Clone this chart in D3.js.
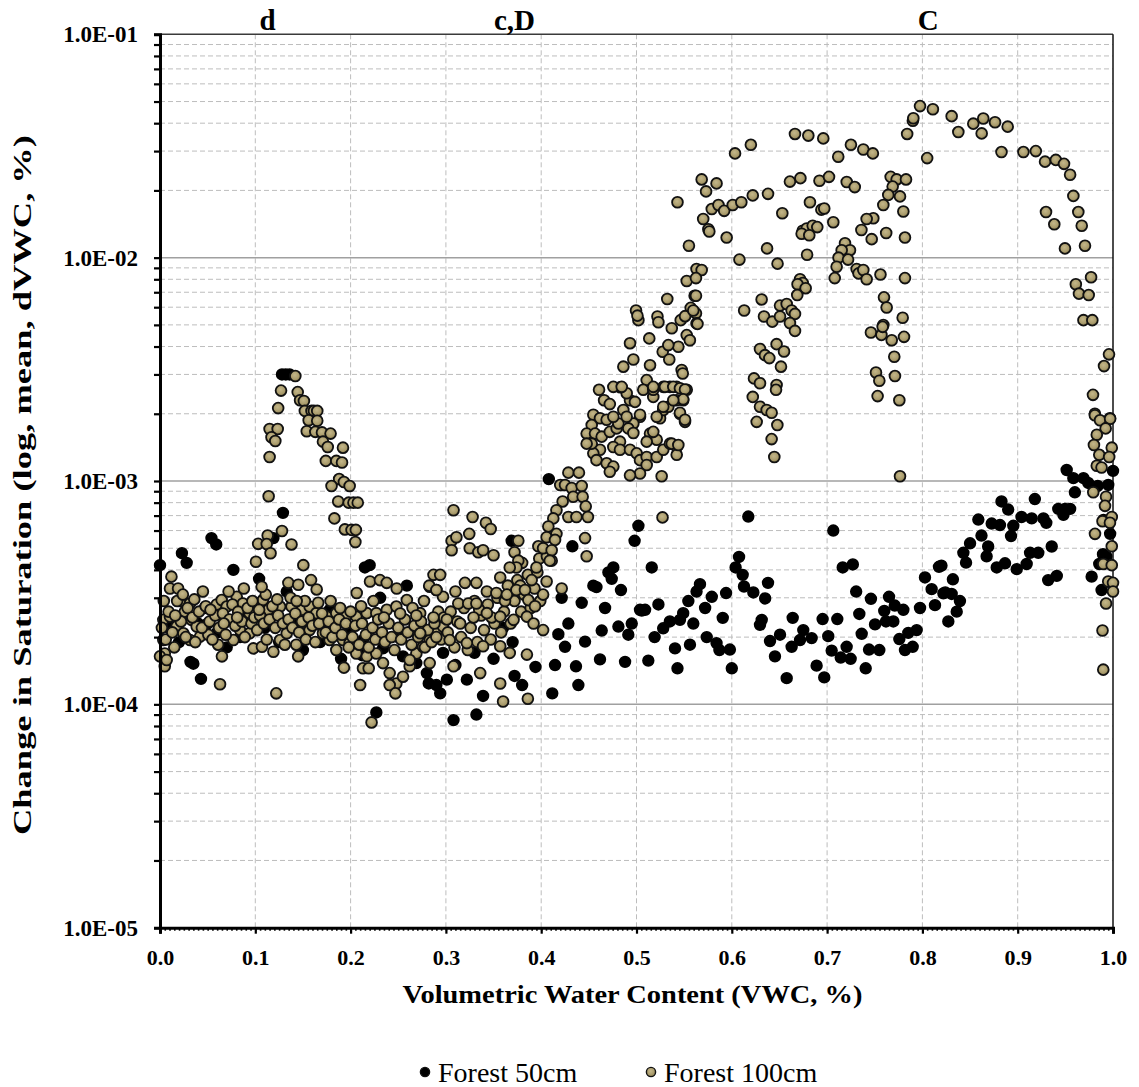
<!DOCTYPE html>
<html>
<head>
<meta charset="utf-8">
<script src="https://cdn.jsdelivr.net/npm/d3@7"></script>
<style>
  body { margin: 0; background: #fff; }
  svg { display: block; }
  text { font-family: "Liberation Serif", "Times New Roman", serif; fill: #000; }
</style>
</head>
<body>
<div id="chart"></div>
<script>
// Forest 50cm (black markers), [VWC, dVWC]
const forest50 = [
  [0, 4.2e-4], [0.009, 2.2e-4], [0.012, 2.4e-4], [0.02, 1.9e-4], [0.023, 4.75e-4], [0.028, 4.3e-4],
  [0.032, 1.55e-4], [0.035, 1.52e-4], [0.04, 2.3e-4], [0.043, 1.3e-4], [0.047, 2.7e-4], [0.05, 2.3e-4],
  [0.054, 5.55e-4], [0.059, 5.2e-4], [0.06, 2.1e-4], [0.07, 1.8e-4], [0.077, 4.0e-4], [0.084, 2.0e-4],
  [0.09, 2.5e-4], [0.104, 3.65e-4], [0.11, 2.2e-4], [0.119, 5.55e-4], [0.125, 1.9e-4], [0.128, 3.0e-3],
  [0.129, 7.2e-4], [0.132, 3.0e-3], [0.133, 3.2e-4], [0.136, 3.0e-3], [0.14, 2.4e-4], [0.15, 1.75e-4],
  [0.16, 2.3e-4], [0.168, 1.9e-4], [0.171, 2.2e-4], [0.178, 2.65e-4], [0.19, 1.6e-4], [0.199, 2.15e-4],
  [0.212, 1.66e-4], [0.213, 1.94e-4], [0.215, 4.1e-4], [0.22, 4.2e-4], [0.227, 9.2e-5], [0.231, 3.0e-4],
  [0.234, 1.78e-4], [0.25, 2.0e-4], [0.255, 1.64e-4], [0.259, 3.4e-4], [0.269, 1.53e-4], [0.28, 1.38e-4],
  [0.282, 1.24e-4], [0.29, 1.22e-4], [0.29, 2.4e-4], [0.294, 1.12e-4], [0.297, 1.7e-4], [0.301, 1.29e-4],
  [0.308, 8.5e-5], [0.31, 1.5e-4], [0.322, 1.29e-4], [0.33, 1.7e-4], [0.332, 9.0e-5], [0.339, 1.09e-4],
  [0.35, 1.6e-4], [0.36, 2.2e-4], [0.369, 5.4e-4], [0.37, 1.9e-4], [0.372, 1.34e-4], [0.38, 1.22e-4],
  [0.394, 1.47e-4],
  [0.408, 1.02e-3], [0.4327, 5.1e-4], [0.4215, 3.0e-4], [0.4425, 2.85e-4], [0.467, 2.7e-4], [0.4285, 2.3e-4],
  [0.418, 2.06e-4], [0.425, 1.81e-4], [0.446, 1.91e-4], [0.4635, 2.14e-4], [0.481, 2.23e-4], [0.4914, 2.05e-4],
  [0.495, 2.3e-4], [0.4145, 1.5e-4], [0.4365, 1.48e-4], [0.4617, 1.59e-4], [0.488, 1.55e-4], [0.439, 1.22e-4],
  [0.4116, 1.12e-4], [0.4757, 4.1e-4], [0.4705, 3.9e-4], [0.474, 3.65e-4], [0.4837, 3.25e-4], [0.4547, 3.4e-4],
  [0.458, 3.35e-4],
  [0.502, 6.3e-4], [0.498, 5.4e-4], [0.5055, 2.63e-4], [0.5037, 2.65e-4], [0.509, 2.65e-4], [0.516, 4.1e-4],
  [0.523, 2.8e-4], [0.5124, 1.57e-4], [0.519, 2.0e-4], [0.528, 2.19e-4], [0.535, 2.35e-4], [0.5456, 2.39e-4],
  [0.549, 2.56e-4], [0.5544, 2.9e-4], [0.563, 3.2e-4], [0.5666, 3.45e-4], [0.5404, 1.78e-4], [0.543, 1.45e-4],
  [0.5561, 1.85e-4], [0.5596, 2.3e-4], [0.5737, 2.0e-4], [0.584, 1.88e-4], [0.587, 1.75e-4], [0.598, 1.76e-4],
  [0.6, 1.45e-4], [0.572, 2.7e-4], [0.579, 3.03e-4], [0.594, 3.15e-4], [0.5905, 2.44e-4],
  [0.6173, 6.93e-4], [0.6076, 4.57e-4], [0.604, 4.1e-4], [0.6114, 3.8e-4], [0.6128, 3.37e-4], [0.6226, 3.17e-4],
  [0.635, 2.98e-4], [0.638, 3.5e-4], [0.6296, 2.27e-4], [0.6314, 2.39e-4], [0.6401, 1.92e-4], [0.6453, 1.64e-4],
  [0.6506, 2.05e-4], [0.6576, 1.31e-4], [0.6628, 1.81e-4], [0.6639, 2.44e-4], [0.6716, 1.94e-4], [0.675, 2.15e-4],
  [0.6838, 1.98e-4], [0.689, 1.49e-4], [0.6953, 2.41e-4], [0.697, 1.32e-4],
  [0.7065, 6.0e-4], [0.7012, 2.02e-4], [0.7048, 1.74e-4], [0.7107, 2.41e-4], [0.7143, 1.62e-4], [0.7205, 1.81e-4],
  [0.7247, 1.6e-4], [0.7164, 4.1e-4], [0.727, 4.23e-4], [0.7305, 3.2e-4], [0.7338, 2.54e-4], [0.7363, 2.07e-4],
  [0.7405, 1.45e-4], [0.744, 1.76e-4], [0.746, 2.97e-4], [0.7503, 2.28e-4], [0.7548, 1.75e-4], [0.76, 2.62e-4],
  [0.7618, 2.35e-4], [0.765, 3.03e-4], [0.7695, 2.35e-4], [0.771, 2.77e-4], [0.7758, 1.96e-4], [0.78, 2.65e-4],
  [0.7817, 1.75e-4], [0.7852, 2.09e-4], [0.7898, 1.81e-4], [0.794, 2.15e-4], [0.7975, 2.7e-4],
  [0.8027, 3.7e-4], [0.8097, 3.28e-4], [0.8174, 4.13e-4], [0.82, 4.18e-4], [0.8132, 2.78e-4], [0.822, 3.14e-4],
  [0.824, 3.17e-4], [0.8272, 2.35e-4], [0.8307, 3.12e-4], [0.832, 3.63e-4], [0.8394, 2.9e-4], [0.836, 2.6e-4],
  [0.843, 4.77e-4], [0.8458, 4.31e-4], [0.85, 5.26e-4], [0.8587, 6.72e-4], [0.862, 5.7e-4], [0.8674, 4.6e-4],
  [0.869, 5.09e-4], [0.8727, 6.45e-4], [0.878, 4.1e-4], [0.8814, 6.35e-4], [0.883, 8.1e-4], [0.8867, 4.28e-4],
  [0.89, 7.45e-4], [0.893, 5.67e-4], [0.8954, 6.3e-4], [0.899, 4.03e-4], [0.904, 6.9e-4], [0.9094, 4.25e-4],
  [0.913, 4.77e-4], [0.9147, 6.8e-4], [0.918, 8.3e-4], [0.9216, 4.77e-4], [0.927, 6.8e-4], [0.93, 6.5e-4],
  [0.932, 3.6e-4], [0.9357, 5.09e-4], [0.941, 3.76e-4], [0.9426, 7.5e-4], [0.948, 7.05e-4], [0.9496, 7.5e-4],
  [0.9514, 1.12e-3], [0.955, 7.5e-4], [0.9584, 1.03e-3], [0.96, 8.9e-4], [0.969, 1.03e-3], [0.974, 9.8e-4],
  [0.9776, 3.73e-4], [0.984, 9.5e-4], [0.9856, 4.25e-4], [0.988, 3.25e-4], [0.9895, 4.7e-4], [0.99, 6.7e-4],
  [0.993, 4.6e-4], [0.995, 9.6e-4], [0.997, 5.8e-4], [0.998, 3.5e-4], [1.0, 1.11e-3]
];

// Forest 100cm (tan markers), [VWC, dVWC]
const forest100 = [
  // low band, 0.0 - 0.3
  [0.0035, 1.94e-4], [0.005, 1.69e-4], [0, 1.64e-4], [0.005, 1.48e-4], [0.007, 1.58e-4], [0.012, 3.73e-4],
  [0.0105, 3.3e-4], [0.019, 3.3e-4], [0.021, 2.9e-4], [0.026, 2.6e-4], [0.0315, 2.83e-4], [0.033, 2.39e-4],
  [0.0385, 2.23e-4], [0.047, 2.08e-4], [0.0595, 2.8e-4], [0.0647, 2.93e-4], [0.07, 2.74e-4], [0.0805, 3.03e-4],
  [0.087, 2.83e-4], [0.094, 2.56e-4], [0.1015, 2.83e-4], [0.108, 2.93e-4], [0.1136, 2.65e-4], [0.126, 2.74e-4],
  [0.138, 2.74e-4], [0.149, 2.65e-4], [0.157, 2.74e-4], [0.164, 2.56e-4], [0.175, 2.47e-4], [0.185, 2.56e-4],
  [0.196, 2.51e-4], [0.206, 2.47e-4], [0.217, 2.56e-4], [0.227, 2.56e-4], [0.238, 2.65e-4], [0.248, 2.74e-4],
  [0.259, 2.93e-4], [0.273, 2.56e-4], [0.283, 3.36e-4], [0.29, 3.25e-4], [0.297, 3.03e-4],
  [0.0035, 2.39e-4], [0.0105, 2.47e-4], [0.0175, 2.23e-4], [0.0245, 2.08e-4], [0.0315, 1.94e-4], [0.042, 2.01e-4],
  [0.0507, 2.05e-4], [0.061, 1.85e-4], [0.065, 1.64e-4], [0.077, 1.94e-4], [0.084, 2.15e-4], [0.094, 2.08e-4],
  [0.098, 1.78e-4], [0.107, 1.81e-4], [0.119, 1.72e-4], [0.126, 1.94e-4], [0.133, 2.08e-4], [0.143, 1.85e-4],
  [0.145, 1.64e-4], [0.15, 2.08e-4], [0.157, 2.15e-4], [0.171, 2.08e-4], [0.178, 1.94e-4], [0.185, 1.75e-4],
  [0.192, 1.94e-4], [0.199, 1.88e-4], [0.206, 1.69e-4], [0.217, 1.64e-4], [0.227, 1.69e-4], [0.234, 1.53e-4],
  [0.241, 1.38e-4], [0.248, 1.24e-4], [0.255, 1.33e-4], [0.262, 1.48e-4], [0.269, 1.69e-4], [0.276, 1.81e-4],
  [0.283, 1.94e-4], [0.29, 2.08e-4], [0.297, 2.23e-4],
  [0.122, 1.12e-4], [0.063, 1.23e-4], [0.222, 8.3e-5], [0.21, 1.22e-4], [0.213, 1.45e-4], [0.193, 1.46e-4],
  [0.219, 1.45e-4], [0.241, 1.22e-4], [0.247, 1.12e-4],
  [0.002, 2.2e-4], [0.006, 1.95e-4], [0.009, 2.6e-4], [0.013, 2.1e-4], [0.015, 1.8e-4], [0.018, 2.9e-4],
  [0.022, 2.35e-4], [0.027, 2.0e-4], [0.029, 2.7e-4], [0.034, 2.45e-4], [0.037, 1.9e-4], [0.041, 2.6e-4],
  [0.044, 2.2e-4], [0.048, 2.75e-4], [0.052, 2.35e-4], [0.055, 1.95e-4], [0.058, 2.5e-4], [0.062, 2.2e-4],
  [0.066, 2.55e-4], [0.069, 2.05e-4], [0.073, 2.4e-4], [0.076, 2.8e-4], [0.079, 2.25e-4], [0.082, 2.6e-4],
  [0.086, 2.35e-4], [0.089, 2.0e-4], [0.092, 2.7e-4], [0.096, 2.3e-4], [0.099, 2.45e-4],
  [0.102, 2.15e-4], [0.105, 2.5e-4], [0.109, 2.3e-4], [0.112, 1.95e-4], [0.115, 2.4e-4], [0.118, 2.75e-4],
  [0.121, 2.2e-4], [0.124, 2.5e-4], [0.129, 2.3e-4], [0.131, 1.85e-4], [0.135, 2.4e-4], [0.139, 2.2e-4],
  [0.142, 2.55e-4], [0.146, 2.1e-4], [0.149, 2.35e-4], [0.153, 1.95e-4], [0.156, 2.45e-4], [0.16, 2.25e-4],
  [0.163, 1.9e-4], [0.167, 2.3e-4], [0.17, 2.55e-4], [0.174, 2.1e-4], [0.177, 2.35e-4], [0.181, 2.0e-4],
  [0.184, 2.2e-4], [0.188, 2.4e-4], [0.191, 2.05e-4], [0.195, 2.3e-4], [0.198, 1.8e-4],
  [0.202, 2.0e-4], [0.205, 2.25e-4], [0.209, 1.85e-4], [0.212, 2.3e-4], [0.216, 2.05e-4], [0.219, 1.8e-4],
  [0.223, 2.2e-4], [0.226, 1.95e-4], [0.229, 2.4e-4], [0.233, 2.1e-4], [0.236, 1.9e-4], [0.24, 2.3e-4],
  [0.243, 2.0e-4], [0.246, 1.75e-4], [0.25, 2.2e-4], [0.253, 1.95e-4], [0.257, 2.4e-4], [0.26, 2.1e-4],
  [0.264, 1.85e-4], [0.267, 2.25e-4], [0.271, 2.0e-4], [0.274, 2.35e-4], [0.278, 1.8e-4], [0.281, 2.15e-4],
  [0.285, 1.9e-4], [0.288, 2.3e-4], [0.292, 2.6e-4], [0.295, 1.95e-4], [0.298, 2.45e-4],
  [0.004, 2.9e-4], [0.016, 2.5e-4], [0.024, 3.1e-4], [0.036, 2.95e-4], [0.045, 3.2e-4], [0.053, 2.65e-4],
  [0.067, 2.3e-4], [0.072, 3.2e-4], [0.081, 2.45e-4], [0.088, 3.3e-4], [0.097, 2.9e-4], [0.104, 2.65e-4],
  [0.111, 3.1e-4], [0.123, 2.95e-4], [0.137, 3.0e-4], [0.152, 2.9e-4], [0.166, 2.85e-4], [0.179, 2.9e-4],
  [0.189, 2.7e-4], [0.2, 2.6e-4], [0.211, 2.75e-4], [0.224, 2.9e-4], [0.235, 2.45e-4], [0.252, 2.55e-4],
  [0.265, 2.7e-4], [0.277, 2.9e-4],
  // band 0.3 - 0.45
  [0.302, 2.1e-4], [0.305, 2.6e-4], [0.309, 1.8e-4], [0.312, 2.35e-4], [0.316, 2.0e-4], [0.319, 2.7e-4],
  [0.323, 1.75e-4], [0.326, 2.2e-4], [0.33, 2.9e-4], [0.333, 1.9e-4], [0.337, 2.5e-4], [0.34, 2.15e-4],
  [0.344, 2.8e-4], [0.347, 1.95e-4], [0.351, 2.3e-4], [0.354, 3.0e-4], [0.358, 2.1e-4], [0.361, 2.6e-4],
  [0.365, 3.4e-4], [0.368, 2.3e-4], [0.372, 2.9e-4], [0.375, 3.6e-4], [0.379, 2.6e-4], [0.382, 3.1e-4],
  [0.386, 3.8e-4], [0.389, 2.7e-4], [0.393, 3.3e-4], [0.396, 3.9e-4], [0.399, 2.9e-4],
  [0.31, 3.2e-4], [0.335, 2.65e-4], [0.348, 2.45e-4], [0.362, 2.9e-4], [0.378, 3.4e-4], [0.39, 3.6e-4],
  [0.38, 4.3e-4], [0.357, 3.7e-4], [0.398, 4.5e-4],
  [0.308, 7.4e-4], [0.328, 6.9e-4], [0.342, 6.5e-4], [0.347, 6.1e-4], [0.3245, 5.8e-4], [0.306, 5.4e-4],
  [0.311, 5.6e-4], [0.306, 4.9e-4], [0.376, 5.4e-4], [0.325, 5.0e-4], [0.334, 4.8e-4], [0.339, 4.9e-4],
  [0.35, 4.65e-4], [0.372, 4.8e-4], [0.376, 4.4e-4], [0.374, 4.1e-4], [0.367, 4.1e-4], [0.395, 4.1e-4],
  [0.406, 4.6e-4], [0.411, 4.4e-4], [0.287, 3.8e-4], [0.294, 3.8e-4], [0.2825, 3.4e-4], [0.29, 3.25e-4],
  [0.32, 3.5e-4], [0.332, 3.5e-4], [0.343, 3.2e-4], [0.353, 3.15e-4], [0.364, 3.1e-4], [0.374, 3.25e-4],
  [0.383, 3.25e-4], [0.3865, 2.93e-4], [0.3935, 2.75e-4], [0.402, 3.1e-4], [0.4057, 3.55e-4], [0.4215, 3.3e-4],
  [0.313, 2.83e-4], [0.3235, 2.83e-4], [0.332, 2.83e-4], [0.343, 2.56e-4], [0.357, 2.47e-4], [0.371, 2.39e-4],
  [0.385, 2.47e-4], [0.392, 2.3e-4], [0.402, 2.15e-4], [0.269, 2.5e-4], [0.287, 2.45e-4], [0.301, 2.4e-4],
  [0.315, 2.3e-4], [0.329, 2.45e-4], [0.273, 2.08e-4], [0.29, 2.0e-4], [0.304, 1.94e-4], [0.322, 1.88e-4],
  [0.339, 1.82e-4], [0.357, 1.82e-4], [0.367, 1.7e-4], [0.385, 1.67e-4], [0.262, 1.58e-4], [0.283, 1.53e-4],
  [0.308, 1.48e-4], [0.336, 1.38e-4], [0.357, 1.24e-4], [0.36, 1.03e-4], [0.386, 1.06e-4],
  [0.2064, 3.15e-4], [0.2204, 3.55e-4], [0.2308, 3.6e-4], [0.2379, 3.5e-4], [0.2484, 3.3e-4],
  [0.4285, 1.09e-3], [0.4396, 1.09e-3], [0.42, 9.6e-4], [0.425, 9.6e-4], [0.432, 9.3e-4], [0.4425, 9.5e-4],
  [0.4225, 8.1e-4], [0.4336, 8.5e-4], [0.4435, 8.5e-4], [0.4467, 7.7e-4], [0.416, 7.4e-4], [0.4285, 6.9e-4],
  [0.437, 6.9e-4], [0.449, 6.9e-4], [0.4127, 6.8e-4], [0.4075, 6.26e-4], [0.4057, 5.6e-4], [0.416, 5.8e-4],
  [0.4145, 5.45e-4], [0.446, 5.55e-4], [0.4477, 4.6e-4], [0.397, 5.1e-4], [0.402, 5.0e-4], [0.411, 4.9e-4],
  [0.409, 4.4e-4],
  // d peak
  [0.1007, 4.35e-4], [0.1067, 3.36e-4], [0.1504, 4.2e-4], [0.1585, 3.6e-4], [0.1644, 3.27e-4], [0.1347, 3.5e-4],
  [0.1451, 3.43e-4], [0.1434, 2.9e-4], [0.142, 2.95e-3],
  [0.127, 2.54e-3], [0.1445, 2.5e-3], [0.124, 2.12e-3], [0.147, 2.3e-3], [0.151, 2.28e-3], [0.152, 2.06e-3],
  [0.159, 2.06e-3], [0.1615, 2.06e-3], [0.165, 2.06e-3], [0.156, 1.87e-3], [0.165, 1.86e-3], [0.115, 1.71e-3],
  [0.1235, 1.71e-3], [0.154, 1.67e-3], [0.163, 1.66e-3], [0.17, 1.65e-3], [0.179, 1.63e-3], [0.117, 1.57e-3],
  [0.121, 1.51e-3], [0.171, 1.5e-3], [0.176, 1.42e-3], [0.192, 1.41e-3], [0.115, 1.28e-3], [0.174, 1.23e-3],
  [0.185, 1.23e-3], [0.191, 1.21e-3], [0.188, 1.02e-3], [0.193, 9.9e-4], [0.199, 9.5e-4], [0.18, 9.5e-4],
  [0.114, 8.55e-4], [0.187, 8.1e-4], [0.198, 8.0e-4], [0.203, 8.0e-4], [0.2075, 8.0e-4], [0.183, 6.8e-4],
  [0.194, 6.07e-4], [0.201, 6.04e-4], [0.2055, 6.04e-4], [0.205, 5.33e-4], [0.128, 5.97e-4], [0.113, 5.7e-4],
  [0.103, 5.23e-4], [0.112, 5.22e-4], [0.116, 4.75e-4], [0.138, 5.2e-4],
  // rise 0.45 - 0.56
  [0.4607, 2.56e-3], [0.466, 2.3e-3], [0.472, 2.21e-3], [0.4547, 1.98e-3], [0.4617, 1.91e-3], [0.4687, 1.88e-3],
  [0.453, 1.78e-3], [0.4477, 1.63e-3], [0.4565, 1.63e-3], [0.4635, 1.58e-3], [0.472, 1.66e-3], [0.4792, 1.72e-3],
  [0.481, 1.81e-3], [0.4757, 1.94e-3], [0.4862, 2.08e-3], [0.4932, 2.3e-3], [0.4984, 2.26e-3], [0.4897, 2.47e-3],
  [0.483, 2.63e-3], [0.4757, 2.64e-3], [0.5107, 2.83e-3], [0.5071, 2.56e-3], [0.5176, 2.38e-3], [0.5037, 1.94e-3],
  [0.4967, 1.81e-3], [0.4914, 1.72e-3], [0.4827, 1.5e-3], [0.4757, 1.42e-3], [0.4617, 1.38e-3], [0.4547, 1.33e-3],
  [0.453, 1.47e-3], [0.4477, 1.47e-3], [0.458, 1.24e-3], [0.4687, 1.2e-3], [0.4757, 1.16e-3], [0.472, 1.1e-3],
  [0.4827, 1.38e-3], [0.4932, 1.38e-3], [0.5002, 1.33e-3], [0.5037, 1.24e-3], [0.5107, 1.28e-3], [0.5107, 1.18e-3],
  [0.5037, 1.08e-3], [0.4932, 1.06e-3], [0.5212, 1.28e-3], [0.5281, 1.38e-3], [0.5351, 1.47e-3], [0.5422, 1.42e-3],
  [0.5422, 1.31e-3], [0.5264, 1.05e-3], [0.5142, 1.63e-3], [0.5212, 1.53e-3], [0.5107, 1.5e-3], [0.5247, 1.91e-3],
  [0.5281, 2.08e-3], [0.5334, 2.15e-3], [0.5422, 2.3e-3], [0.549, 2.3e-3], [0.5527, 2.56e-3], [0.5422, 2.64e-3],
  [0.5351, 2.64e-3], [0.5281, 2.64e-3], [0.5176, 2.56e-3], [0.5456, 2.0e-3], [0.5509, 1.84e-3], [0.5273, 6.87e-4],
  [0.4995, 5.8e-3], [0.502, 5.25e-3], [0.522, 5.45e-3], [0.523, 5.14e-3], [0.537, 4.83e-3], [0.5464, 5.25e-3],
  [0.5569, 5.96e-3], [0.5624, 5.63e-3], [0.563, 5.08e-3], [0.5527, 4.5e-3], [0.556, 4.27e-3], [0.5134, 4.35e-3],
  [0.4932, 4.14e-3], [0.4967, 3.5e-3], [0.4862, 3.25e-3], [0.5142, 3.3e-3], [0.5275, 3.79e-3], [0.5344, 3.5e-3],
  [0.5439, 3.99e-3], [0.5474, 3.14e-3], [0.5176, 2.64e-3], [0.5299, 2.64e-3], [0.5386, 2.64e-3], [0.5456, 2.6e-3],
  [0.5509, 2.57e-3], [0.549, 2.32e-3], [0.5386, 2.3e-3], [0.5281, 2.15e-3], [0.5212, 1.94e-3], [0.5037, 1.98e-3],
  [0.4897, 1.94e-3], [0.4845, 2.64e-3], [0.4967, 1.64e-3], [0.5176, 1.66e-3], [0.537, 1.47e-3], [0.5439, 1.45e-3],
  [0.5456, 2.02e-3], [0.5509, 1.88e-3], [0.501, 5.5e-3], [0.551, 5.47e-3], [0.5596, 5.8e-3], [0.564, 5.05e-3],
  [0.5485, 3.03e-3], [0.5334, 4.06e-3], [0.561, 6.75e-3],
  [0.563, 8.9e-3], [0.5684, 8.8e-3], [0.5527, 7.86e-3], [0.5624, 8.1e-3], [0.5624, 6.75e-3], [0.5323, 6.53e-3],
  // upper arc 0.54 - 0.8
  [0.6663, 3.58e-2], [0.6803, 3.52e-2], [0.696, 3.42e-2], [0.6034, 2.93e-2], [0.62, 3.2e-2], [0.7117, 2.83e-2],
  [0.725, 3.2e-2], [0.738, 3.05e-2], [0.748, 2.93e-2], [0.784, 3.58e-2], [0.79, 4.1e-2], [0.805, 2.79e-2],
  [0.5684, 2.24e-2], [0.584, 2.15e-2], [0.573, 1.98e-2], [0.543, 1.77e-2], [0.579, 1.65e-2], [0.586, 1.72e-2],
  [0.592, 1.62e-2], [0.601, 1.72e-2], [0.61, 1.77e-2], [0.622, 1.9e-2], [0.638, 1.93e-2], [0.57, 1.49e-2],
  [0.5754, 1.34e-2], [0.5764, 1.31e-2], [0.555, 1.13e-2], [0.5946, 1.23e-2], [0.653, 1.58e-2], [0.661, 2.19e-2],
  [0.672, 2.27e-2], [0.692, 2.21e-2], [0.702, 2.3e-2], [0.7206, 2.18e-2], [0.729, 2.07e-2], [0.682, 1.77e-2],
  [0.694, 1.64e-2], [0.697, 1.66e-2], [0.7065, 1.44e-2], [0.6744, 1.32e-2], [0.6786, 1.35e-2], [0.6849, 1.39e-2],
  [0.6897, 1.37e-2], [0.6733, 1.28e-2], [0.6813, 1.26e-2], [0.637, 1.1e-2], [0.608, 9.8e-3], [0.648, 9.4e-3],
  [0.679, 1.03e-2], [0.7667, 2.3e-2], [0.773, 2.24e-2], [0.7828, 2.24e-2], [0.7688, 2.08e-2], [0.7765, 1.88e-2],
  [0.7642, 1.91e-2], [0.759, 1.72e-2], [0.78, 1.61e-2], [0.7485, 1.5e-2], [0.7415, 1.49e-2], [0.736, 1.33e-2],
  [0.7468, 1.21e-2], [0.762, 1.29e-2], [0.7817, 1.23e-2], [0.7188, 1.16e-2], [0.724, 1.08e-2], [0.7153, 1.08e-2],
  [0.712, 1.0e-2], [0.71, 9.1e-3], [0.708, 8.1e-3], [0.722, 9.8e-3], [0.731, 8.9e-3], [0.733, 8.5e-3],
  [0.738, 8.8e-3], [0.7415, 8.0e-3], [0.756, 8.4e-3], [0.7817, 8.1e-3], [0.7597, 6.64e-3], [0.7625, 5.98e-3],
  [0.7793, 5.38e-3], [0.759, 4.99e-3], [0.746, 4.62e-3], [0.757, 4.51e-3], [0.7678, 4.27e-3], [0.7807, 4.42e-3],
  [0.7705, 3.6e-3], [0.7712, 2.95e-3], [0.7513, 3.06e-3], [0.7548, 2.81e-3], [0.753, 2.4e-3], [0.7758, 2.3e-3],
  [0.7583, 4.9e-3], [0.7765, 1.05e-3],
  [0.6716, 8.0e-3], [0.6744, 7.7e-3], [0.669, 7.6e-3], [0.6775, 7.3e-3], [0.6687, 6.8e-3], [0.6313, 6.5e-3],
  [0.613, 5.8e-3], [0.6338, 5.45e-3], [0.6425, 5.17e-3], [0.6506, 6.1e-3], [0.6576, 6.2e-3], [0.6628, 5.8e-3],
  [0.6663, 5.6e-3], [0.6506, 5.45e-3], [0.661, 5.1e-3], [0.6663, 4.7e-3], [0.647, 4.1e-3], [0.6548, 3.8e-3],
  [0.6296, 3.9e-3], [0.6348, 3.66e-3], [0.6394, 3.55e-3], [0.6516, 3.25e-3], [0.6233, 2.88e-3], [0.6296, 2.74e-3],
  [0.647, 2.69e-3], [0.6464, 2.56e-3], [0.622, 2.38e-3], [0.6296, 2.15e-3], [0.6366, 2.08e-3], [0.6418, 2.02e-3],
  [0.6261, 1.84e-3], [0.6478, 1.78e-3], [0.6418, 1.54e-3], [0.6446, 1.28e-3],
  // C arc 0.79 - 1.0
  [0.7905, 4.21e-2], [0.7975, 4.77e-2], [0.811, 4.62e-2], [0.8307, 4.3e-2], [0.8377, 3.65e-2], [0.8534, 3.98e-2],
  [0.8639, 4.2e-2], [0.8762, 4.04e-2], [0.8895, 3.86e-2], [0.8622, 3.6e-2], [0.883, 2.97e-2], [0.906, 2.97e-2],
  [0.919, 3.0e-2], [0.9287, 2.69e-2], [0.94, 2.74e-2], [0.9486, 2.63e-2], [0.955, 2.35e-2], [0.9584, 1.89e-2],
  [0.9636, 1.6e-2], [0.9672, 1.39e-2], [0.9706, 1.13e-2], [0.9297, 1.6e-2], [0.9384, 1.41e-2], [0.9496, 1.1e-2],
  [0.977, 8.17e-3], [0.961, 7.6e-3], [0.9643, 6.9e-3], [0.9745, 6.8e-3], [0.969, 5.25e-3], [0.9783, 5.25e-3],
  [0.9958, 3.69e-3], [0.9906, 3.27e-3], [0.979, 2.43e-3], [0.981, 2.0e-3], [0.9968, 1.91e-3],
  [0.981, 1.97e-3], [0.9864, 1.87e-3], [0.997, 1.9e-3], [0.9923, 1.72e-3], [0.983, 1.61e-3], [0.98, 1.45e-3],
  [0.9987, 1.41e-3], [0.9856, 1.31e-3], [0.996, 1.28e-3], [0.983, 1.17e-3], [0.988, 1.15e-3], [0.9793, 8.9e-4],
  [0.9927, 8.5e-4], [0.9916, 7.74e-4], [0.9987, 6.9e-4], [0.989, 6.6e-4], [0.9968, 6.5e-4], [0.9811, 5.8e-4],
  [0.9987, 5.1e-4], [0.9898, 4.25e-4], [0.9987, 4.2e-4], [0.995, 3.55e-4], [1.0, 3.5e-4], [1.0, 3.2e-4],
  [0.9927, 2.83e-4], [0.989, 2.14e-4], [0.9898, 1.43e-4]
];

const seriesNames = ['Forest 50cm', 'Forest 100cm'];
const xTickValues = [0, 0.1, 0.2, 0.3, 0.4, 0.5, 0.6, 0.7, 0.8, 0.9, 1.0];
const yDecades = [1e-5, 1e-4, 1e-3, 1e-2, 1e-1];
const zoneLabels = [
  { x: 0.113, text: 'd' },
  { x: 0.372, text: 'c,D' },
  { x: 0.806, text: 'C' }
];

const W = 1139, H = 1087;
const margin = { top: 34.3, right: 26, bottom: 159.3, left: 160 };
const w = W - margin.left - margin.right;
const h = H - margin.top - margin.bottom;

const svg = d3.select('#chart').append('svg')
  .attr('width', W)
  .attr('height', H);

const defs = svg.append('defs');
const grad = defs.append('radialGradient')
  .attr('id', 'tanFill')
  .attr('cx', '45%').attr('cy', '40%').attr('r', '60%');
grad.append('stop').attr('offset', '0%').attr('stop-color', '#c4b78a');
grad.append('stop').attr('offset', '65%').attr('stop-color', '#aa9c6c');
grad.append('stop').attr('offset', '100%').attr('stop-color', '#85784c');

const g = svg.append('g').attr('transform', `translate(${margin.left},${margin.top})`);

const x = d3.scaleLinear().domain([0, 1]).range([0, w]);
const y = d3.scaleLog().domain([1e-5, 1e-1]).range([h, 0]);

// minor log values 2..9 per decade
const yMinor = [];
yDecades.slice(0, -1).forEach(d => {
  for (let m = 2; m <= 9; m++) yMinor.push(m * d);
});

// grid
const grid = g.append('g').attr('class', 'grid');
grid.selectAll('line.minor-h')
  .data(yMinor)
  .enter().append('line')
  .attr('x1', 0).attr('x2', w)
  .attr('y1', d => y(d)).attr('y2', d => y(d))
  .attr('stroke', '#bdbdbd')
  .attr('stroke-width', 1)
  .attr('stroke-dasharray', '5,3');

grid.selectAll('line.v')
  .data(xTickValues.slice(1, -1))
  .enter().append('line')
  .attr('x1', d => x(d)).attr('x2', d => x(d))
  .attr('y1', 0).attr('y2', h)
  .attr('stroke', '#bdbdbd')
  .attr('stroke-width', 1)
  .attr('stroke-dasharray', '5,3');

grid.selectAll('line.major-h')
  .data(yDecades.slice(1, -1))
  .enter().append('line')
  .attr('x1', 0).attr('x2', w)
  .attr('y1', d => y(d)).attr('y2', d => y(d))
  .attr('stroke', '#a0a0a0')
  .attr('stroke-width', 1.5);

// top and right frame
g.append('line').attr('x1', 0).attr('x2', w).attr('y1', 0).attr('y2', 0)
  .attr('stroke', '#3a3a3a').attr('stroke-width', 1.5);
g.append('line').attr('x1', w).attr('x2', w).attr('y1', 0).attr('y2', h)
  .attr('stroke', '#111').attr('stroke-width', 1.5);

// points: 50cm first, 100cm on top
g.append('g').selectAll('circle')
  .data(forest50)
  .enter().append('circle')
  .attr('cx', d => x(d[0]))
  .attr('cy', d => y(d[1]))
  .attr('r', 5.4)
  .attr('fill', '#000')
  .attr('stroke', '#000')
  .attr('stroke-width', 1.6);

g.append('g').selectAll('circle')
  .data(forest100)
  .enter().append('circle')
  .attr('cx', d => x(d[0]))
  .attr('cy', d => y(d[1]))
  .attr('r', 5.4)
  .attr('fill', 'url(#tanFill)')
  .attr('stroke', '#111')
  .attr('stroke-width', 1.8);

// y axis
const fmtE = d => {
  const e = Math.round(Math.log10(d));
  return '1.0E' + (e < 0 ? '-' : '+') + String(Math.abs(e)).padStart(2, '0');
};
const yAxis = g.append('g')
  .call(d3.axisLeft(y)
    .tickValues(yDecades.concat(yMinor))
    .tickSize(6)
    .tickPadding(16)
    .tickFormat(d => yDecades.includes(d) ? fmtE(d) : ''));
yAxis.select('.domain').attr('stroke', '#000').attr('stroke-width', 3);
yAxis.selectAll('.tick line').attr('stroke', '#000').attr('stroke-width', 2.2);
yAxis.selectAll('.tick text')
  .attr('font-size', 23).attr('font-weight', 'bold')
  .attr('font-family', '"Liberation Serif", "Times New Roman", serif');

// x axis: minor ticks then major with labels
const xMinor = d3.range(0, 201).map(i => i / 200);
const xAxisMinor = g.append('g').attr('transform', `translate(0,${h})`)
  .call(d3.axisBottom(x).tickValues(xMinor).tickSize(3).tickFormat(''));
xAxisMinor.select('.domain').remove();
xAxisMinor.selectAll('.tick line').attr('stroke', '#000').attr('stroke-width', 1.6);

const xAxis = g.append('g').attr('transform', `translate(0,${h})`)
  .call(d3.axisBottom(x)
    .tickValues(xTickValues)
    .tickSize(6)
    .tickPadding(16)
    .tickFormat(d3.format('.1f')));
xAxis.select('.domain').attr('stroke', '#000').attr('stroke-width', 3);
xAxis.selectAll('.tick line').attr('stroke', '#000').attr('stroke-width', 2.2);
xAxis.selectAll('.tick text')
  .attr('font-size', 22).attr('font-weight', 'bold')
  .attr('font-family', '"Liberation Serif", "Times New Roman", serif');

// axis titles
svg.append('text')
  .attr('x', margin.left + w / 2 - 4)
  .attr('y', 1003)
  .attr('text-anchor', 'middle')
  .attr('font-size', 26)
  .attr('font-weight', 'bold')
  .attr('textLength', 460)
  .attr('lengthAdjust', 'spacingAndGlyphs')
  .text('Volumetric Water Content (VWC, %)');

svg.append('text')
  .attr('transform', `translate(31,${margin.top + h / 2 + 4}) rotate(-90)`)
  .attr('text-anchor', 'middle')
  .attr('font-size', 25)
  .attr('font-weight', 'bold')
  .attr('textLength', 700)
  .attr('lengthAdjust', 'spacingAndGlyphs')
  .text('Change in Saturation (log, mean, dVWC, %)');

// zone labels above the plot
g.selectAll('text.zone')
  .data(zoneLabels)
  .enter().append('text')
  .attr('x', d => x(d.x))
  .attr('y', -4)
  .attr('text-anchor', 'middle')
  .attr('font-size', 29)
  .attr('font-weight', 'bold')
  .text(d => d.text);

// legend
const legend = svg.append('g').attr('transform', 'translate(425,1072)');
const legendItems = [
  { name: seriesNames[0], fill: '#000', offset: 0 },
  { name: seriesNames[1], fill: 'url(#tanFill)', offset: 226 }
];
const li = legend.selectAll('g')
  .data(legendItems)
  .enter().append('g')
  .attr('transform', d => `translate(${d.offset},0)`);
li.append('circle')
  .attr('r', 4.6)
  .attr('fill', d => d.fill)
  .attr('stroke', '#111')
  .attr('stroke-width', 1.4);
li.append('text')
  .attr('x', 13)
  .attr('y', 10)
  .attr('font-size', 28)
  .text(d => d.name);
</script>
</body>
</html>
